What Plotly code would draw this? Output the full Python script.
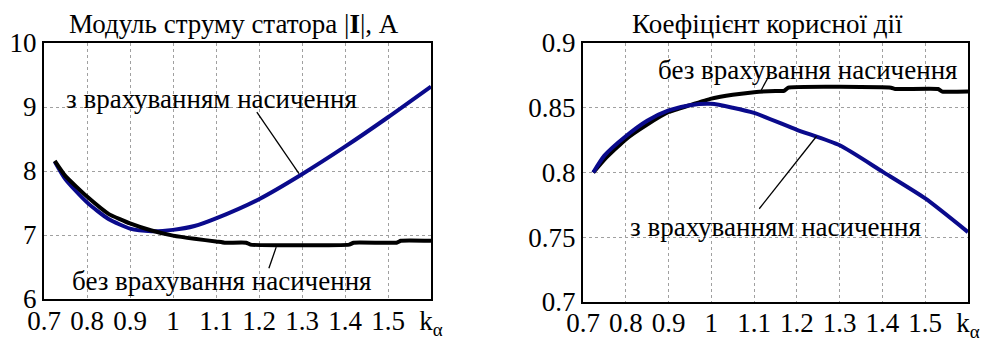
import plotly.graph_objects as go

# ---------------- data ----------------
k_alpha_sat_I = [0.725, 0.75, 0.80, 0.85, 0.90, 0.95, 1.00, 1.05, 1.10, 1.20, 1.30, 1.40, 1.50, 1.60]
I_sat = [8.15, 7.87, 7.51, 7.25, 7.10, 7.06, 7.08, 7.14, 7.26, 7.56, 7.95, 8.38, 8.84, 9.32]

k_alpha_nosat_I = [0.725, 0.75, 0.80, 0.85, 0.90, 0.95, 1.00, 1.05, 1.10, 1.12, 1.17, 1.18, 1.41, 1.42, 1.52, 1.53, 1.60]
I_nosat = [8.16, 7.92, 7.60, 7.33, 7.18, 7.07, 6.99, 6.94, 6.90, 6.88, 6.88, 6.85, 6.85, 6.88, 6.88, 6.91, 6.91]

k_alpha_sat_eta = [0.724, 0.75, 0.80, 0.85, 0.90, 0.95, 1.00, 1.05, 1.10, 1.20, 1.30, 1.40, 1.50, 1.60]
eta_sat = [0.800, 0.813, 0.828, 0.840, 0.848, 0.852, 0.853, 0.850, 0.846, 0.833, 0.821, 0.8007, 0.780, 0.754]

k_alpha_nosat_eta = [0.724, 0.75, 0.80, 0.85, 0.90, 0.95, 1.00, 1.05, 1.10, 1.15, 1.17, 1.18, 1.42, 1.43, 1.53, 1.54, 1.60]
eta_nosat = [0.800, 0.810, 0.8256, 0.837, 0.8467, 0.852, 0.857, 0.860, 0.862, 0.863, 0.863, 0.8655, 0.8655, 0.8645, 0.8645, 0.8625, 0.8625]

x_tick_vals = [0.7, 0.8, 0.9, 1.0, 1.1, 1.2, 1.3, 1.4, 1.5, 1.6]
x_tick_text = ["0.7", "0.8", "0.9", "1", "1.1", "1.2", "1.3", "1.4", "1.5", "k<sub>α</sub>"]
y1_tick_vals = [6, 7, 8, 9, 10]
y1_tick_text = ["6", "7", "8", "9", "10"]
y2_tick_vals = [0.7, 0.75, 0.8, 0.85, 0.9]
y2_tick_text = ["0.7", "0.75", "0.8", "0.85", "0.9"]

title_left = "Модуль струму статора |<b>I</b>|, А"
title_right = "Коефіцієнт корисної дії"
label_sat = "з врахуванням насичення"
label_nosat = "без врахування насичення"

# leader lines (x0, y0, x1, y1) in data units
leader_left_sat = (1.195, 8.92, 1.293, 7.96)
leader_left_nosat = (1.223, 6.48, 1.240, 6.81)
leader_right_nosat = (1.114, 0.862, 1.137, 0.876)
leader_right_sat = (1.112, 0.772, 1.246, 0.828)

# ---------------- figure ----------------
BLUE = "#0a0a8c"
FONT = "'Liberation Serif', 'Times New Roman', Times, serif"
FS = 27

fig = go.Figure()

# left: blue under black
fig.add_trace(go.Scatter(x=k_alpha_sat_I, y=I_sat, mode="lines", line=dict(color=BLUE, width=4, shape="spline", smoothing=0.6),
                         xaxis="x", yaxis="y", showlegend=False))
fig.add_trace(go.Scatter(x=k_alpha_nosat_I, y=I_nosat, mode="lines", line=dict(color="black", width=4, shape="spline", smoothing=0.4),
                         xaxis="x", yaxis="y", showlegend=False))
# right: black under blue
fig.add_trace(go.Scatter(x=k_alpha_nosat_eta, y=eta_nosat, mode="lines", line=dict(color="black", width=4, shape="spline", smoothing=0.4),
                         xaxis="x2", yaxis="y2", showlegend=False))
fig.add_trace(go.Scatter(x=k_alpha_sat_eta, y=eta_sat, mode="lines", line=dict(color=BLUE, width=4, shape="spline", smoothing=0.6),
                         xaxis="x2", yaxis="y2", showlegend=False))

axis_common = dict(showline=True, mirror=True, linecolor="black", linewidth=2, automargin=False,
                   showgrid=True, gridcolor="#a0a0a0", gridwidth=1, griddash="dot",
                   zeroline=False, ticks="", tickfont=dict(family=FONT, size=FS, color="black"))

fig.update_layout(
    width=992, height=342,
    margin=dict(l=0, r=0, t=0, b=0),
    paper_bgcolor="white", plot_bgcolor="white",
    font=dict(family=FONT, size=FS, color="black"),
    xaxis=dict(domain=[44/992, 431/992], range=[0.7, 1.6], tickvals=x_tick_vals, ticktext=x_tick_text,
               anchor="y", ticklabelstandoff=-3, **axis_common),
    yaxis=dict(domain=[1-299/342, 1-43/342], range=[6, 10], tickvals=y1_tick_vals, ticktext=y1_tick_text,
               anchor="x", **axis_common),
    xaxis2=dict(domain=[583/992, 968/992], range=[0.7, 1.6], tickvals=x_tick_vals, ticktext=x_tick_text,
                anchor="y2", ticklabelstandoff=-4, **axis_common),
    yaxis2=dict(domain=[1-302/342, 1-43/342], range=[0.7, 0.9], tickvals=y2_tick_vals, ticktext=y2_tick_text,
                anchor="x2", **axis_common),
)

ann_font = dict(family=FONT, size=FS, color="black")
annotations = [
    dict(text=title_left, xref="paper", yref="paper", x=234/992, y=1-24/342, showarrow=False,
         xanchor="center", yanchor="middle", font=ann_font),
    dict(text=title_right, xref="paper", yref="paper", x=767/992, y=1-24/342, showarrow=False,
         xanchor="center", yanchor="middle", font=ann_font),
    dict(text=label_sat, xref="x", yref="y", x=1.09, y=9.13, showarrow=False, xanchor="center", yanchor="middle",
         font=ann_font),
    dict(text=label_nosat, xref="x", yref="y", x=1.115, y=6.28, showarrow=False, xanchor="center", yanchor="middle",
         font=ann_font),
    dict(text=label_nosat, xref="x2", yref="y2", x=1.225, y=0.879, showarrow=False, xanchor="center", yanchor="middle",
         font=ann_font),
    dict(text=label_sat, xref="x2", yref="y2", x=1.150, y=0.758, showarrow=False, xanchor="center", yanchor="middle",
         font=ann_font),
]
fig.update_layout(annotations=annotations)

shapes = []
for (x0, y0, x1, y1), xr, yr in [(leader_left_sat, "x", "y"), (leader_left_nosat, "x", "y"),
                                 (leader_right_nosat, "x2", "y2"), (leader_right_sat, "x2", "y2")]:
    shapes.append(dict(type="line", xref=xr, yref=yr, x0=x0, y0=y0, x1=x1, y1=y1,
                       line=dict(color="black", width=1.3)))
fig.update_layout(shapes=shapes)

fig.write_html("out.html", config={"displayModeBar": False},
               post_script="document.body.style.margin='0';document.body.style.overflow='hidden';")
